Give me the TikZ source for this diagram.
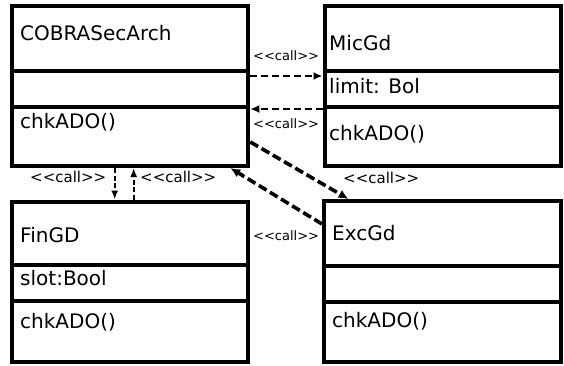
\documentclass[tikz,border=0pt]{standalone}
\usepackage{fontspec}
\setmainfont{DejaVu Sans}
\usetikzlibrary{arrows.meta,calc}

\tikzset{
  part/.style={draw, line width=4pt, rectangle, inner sep=0pt, anchor=north west},
  member/.style={anchor=base west, inner sep=0pt, font=\fontsize{20}{24}\selectfont},
  calltag/.style={anchor=base west, inner sep=0pt, font=\fontsize{13}{15}\selectfont},
  calltagbig/.style={anchor=base west, inner sep=0pt, font=\fontsize{15}{17}\selectfont},
  callflat/.style={line width=2.6pt, dash pattern=on 7pt off 4pt, -{Latex[length=9pt,width=8pt]}},
  calldiag/.style={line width=3.6pt, dash pattern=on 9pt off 4pt, -{Latex[length=10pt,width=9pt]}},
  callvert/.style={line width=2pt, dash pattern=on 5pt off 2.5pt, -{Latex[length=9pt,width=7pt]}},
}

\begin{document}
\begin{tikzpicture}[x=1pt, y=-1pt]
\useasboundingbox (0,0) rectangle (564,365);

% COBRASecArch
\node[part, minimum width=236.8pt, minimum height=64.5pt] (cobraN) at (9.5,4) {};
\node[part, minimum width=236.8pt, minimum height=36.5pt] (cobraA) at (9.5,68.5) {};
\node[part, minimum width=236.8pt, minimum height=59pt]   (cobraO) at (9.5,105) {};
\node[member] (cobraName) at (20,40.7) {COBRASecArch};
\node[member] (cobraOp)   at (20,128) {chkADO()};

% MicGd
\node[part, minimum width=236pt, minimum height=64.5pt] (micN) at (322.5,4) {};
\node[part, minimum width=236pt, minimum height=36.5pt] (micA) at (322.5,68.5) {};
\node[part, minimum width=236pt, minimum height=59pt]   (micO) at (322.5,105) {};
\node[member] (micName) at (329,50) {MicGd};
\node[member] (micAttr) at (329,93) {limit: Bol};
\node[member] (micOp)   at (329,140) {chkADO()};

% FinGD
\node[part, minimum width=236.8pt, minimum height=63.5pt] (finN) at (9.5,199.5) {};
\node[part, minimum width=236.8pt, minimum height=35.5pt] (finA) at (9.5,263) {};
\node[part, minimum width=236.8pt, minimum height=61.5pt] (finO) at (9.5,298.5) {};
\node[member] (finName) at (20,242) {FinGD};
\node[member] (finAttr) at (20,285) {slot:Bool};
\node[member] (finOp)   at (20,328) {chkADO()};

% ExcGd
\node[part, minimum width=237pt, minimum height=65pt] (excN) at (322,199) {};
\node[part, minimum width=237pt, minimum height=36pt] (excA) at (322,264) {};
\node[part, minimum width=237pt, minimum height=60pt] (excO) at (322,300) {};
\node[member] (excName) at (332,240) {ExcGd};
\node[member] (excOp)   at (332,327) {chkADO()};

% connector end points
\coordinate (c1) at ([yshift=-7.5pt]cobraA.north east);
\coordinate (c2) at ([yshift=-4pt]micO.north west);
\coordinate (c3) at ([yshift=-37pt]cobraO.north east);
\coordinate (c4) at ([xshift=26.5pt]excN.north west);
\coordinate (c5) at ([yshift=9.5pt]excN.west);
\coordinate (c6) at ([xshift=-20pt]cobraO.south east);
\coordinate (c7) at ([xshift=-15.2pt]cobraO.south);
\coordinate (c8) at ([xshift=3.8pt]cobraO.south);

% calls
\draw[callflat] (c1) -- (c1 -| micA.west);
\draw[callflat] (c2) -- (c2 -| cobraO.east);
\draw[calldiag] (c3) -- (c4);
\draw[calldiag] (c5) -- (c6);
\draw[callvert] (c7) -- (c7 |- finN.north);
\draw[callvert] (c8 |- finN.north) -- (c8);

% call labels
\node[calltag] (t1) at (253,60) {<{}<call>{}>};
\node[calltag] (t2) at (253,128) {<{}<call>{}>};
\node[calltag] (t4) at (253,240) {<{}<call>{}>};
\node[calltagbig] (t3) at (343,183) {<{}<call>{}>};
\node[calltagbig] (t5) at (30,182) {<{}<call>{}>};
\node[calltagbig] (t6) at (140,182) {<{}<call>{}>};
\end{tikzpicture}
\end{document}
